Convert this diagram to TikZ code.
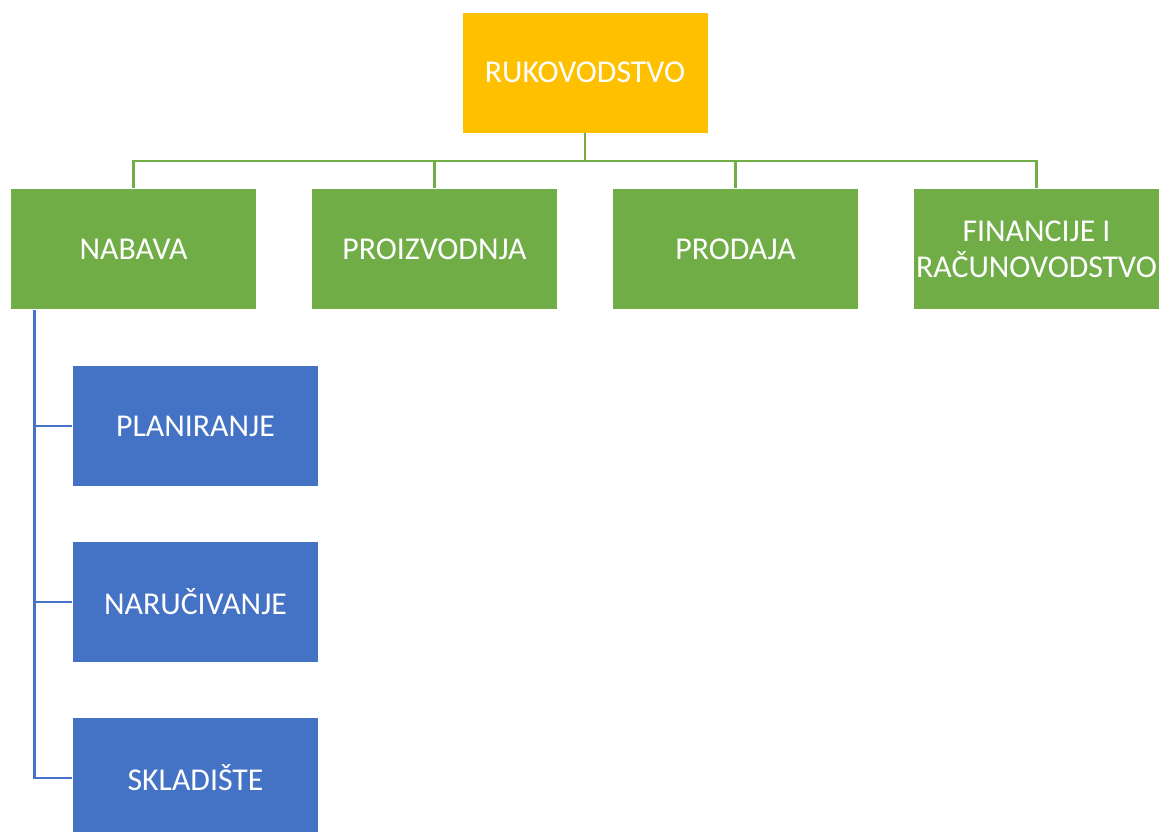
\documentclass[tikz,border=0pt]{standalone}
\usepackage{fontspec}
\setmainfont{Carlito}
\definecolor{cyellow}{HTML}{FFC000}
\definecolor{cgreen}{HTML}{70AD47}
\definecolor{cblue}{HTML}{4472C4}
\begin{document}
\begin{tikzpicture}[
  box/.style={rectangle, draw=white, line width=0.8pt, minimum width=246pt, minimum height=121pt,
    inner sep=0pt, text=white, align=center, font=\fontsize{31.8}{36}\selectfont},
  ybox/.style={box, fill=cyellow},
  gbox/.style={box, fill=cgreen},
  bbox/.style={box, fill=cblue},
  gline/.style={draw=cgreen, line width=2.6pt},
  bline/.style={draw=cblue, line width=2.6pt}
]
\useasboundingbox (0pt,0pt) rectangle (1162pt,-832pt);
\node[ybox] (top) at (585pt,-72.5pt) {RUKOVODSTVO};
\node[gbox] (g1) at (133.5pt,-249pt) {NABAVA};
\node[gbox] (g2) at (434.5pt,-249pt) {PROIZVODNJA};
\node[gbox] (g3) at (735.5pt,-249pt) {PRODAJA};
\node[gbox] (g4) at (1036.5pt,-249pt) {FINANCIJE I\\RAČUNOVODSTVO};
\node[bbox] (b1) at (195.5pt,-426pt) {PLANIRANJE};
\node[bbox] (b2) at (195.5pt,-602pt) {NARUČIVANJE};
\node[bbox] (b3) at (195.5pt,-778pt) {SKLADIŠTE};
\coordinate (bus) at (0pt,-161pt);
\coordinate (spine) at (34.5pt,0pt);
\draw[gline] (top.south) -- (top.south |- bus);
\draw[gline] (g1.north) -- (g1.north |- bus) -- (g4.north |- bus) -- (g4.north);
\draw[gline] (g2.north) -- (g2.north |- bus);
\draw[gline] (g3.north) -- (g3.north |- bus);
\draw[bline] (spine |- g1.south) -- (spine |- b3.west) -- (b3.west);
\draw[bline] (spine |- b1.west) -- (b1.west);
\draw[bline] (spine |- b2.west) -- (b2.west);
\end{tikzpicture}
\end{document}
